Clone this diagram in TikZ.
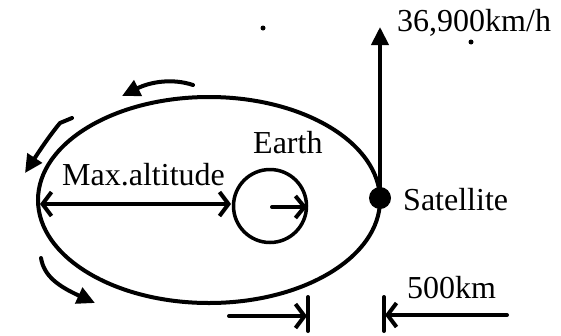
\documentclass[tikz,border=0pt]{standalone}
\usepackage{fontspec}
\setmainfont{Liberation Serif}
\usetikzlibrary{arrows.meta}
\begin{document}
\begin{tikzpicture}[x=1pt,y=-1pt,
  lbl/.style={inner sep=0pt,anchor=base west,font=\fontsize{32}{38}\selectfont},
  thick4/.style={line width=4pt},
  filledtip/.style={-{Triangle[length=18pt,width=17pt]}},
  opentip/.style={line width=4pt,line cap=round}]
\useasboundingbox (0,0) rectangle (561,335);
% orbit
\draw[thick4] (209,200) ellipse [x radius=171, y radius=103];
% earth
\node[draw,circle,line width=3.5pt,minimum size=73pt,inner sep=0pt] (earth) at (270,206) {};
\coordinate (ec) at (272,207);
\coordinate (er) at (307,207);
\draw[opentip,-{Straight Barb[length=9pt,width=22pt,line width=4pt]}] (ec) -- (er);
\node[lbl] (earthlbl) at (253,153) {Earth};
% max altitude
\coordinate (ml) at (40,204);
\coordinate (mr) at (231,204);
\draw[opentip,{Straight Barb[length=9pt,width=24pt,line width=4pt]}-{Straight Barb[length=9pt,width=24pt,line width=4pt]}] (ml) -- (mr);
\node[lbl] (maxlbl) at (62,185) {Max.altitude};
% satellite
\node[circle,fill,minimum size=22pt,inner sep=0pt] (sat) at (380,198) {};
\node[lbl] (satlbl) at (403,210) {Satellite};
\coordinate (vtop) at (380,27);
\draw[line width=4pt,filledtip] (sat.center) -- (vtop);
\node[lbl] (vlbl) at (397,31) {36,900km/h};
% stray dots
\fill (263,28) circle [radius=2.5];
\fill (471,42) circle [radius=2.5];
% curved arrows
\draw[thick4,line cap=round,filledtip] (193,85) .. controls (172,78) and (150,82) .. (122,96);
\draw[thick4,line cap=round,line join=round,filledtip] (72,118) -- (60,123) .. controls (50,135) and (40,150) .. (25,173);
\draw[thick4,line cap=round,filledtip] (41,258) .. controls (44,276) and (58,286) .. (95,303);
% 500 km
\coordinate (al) at (229,316);
\coordinate (ar) at (307,316);
\draw[opentip,-{Straight Barb[length=9pt,width=24pt,line width=4pt]}] (al) -- (ar);
\draw[opentip] (308,297) -- (308,331);
\coordinate (bl) at (507,315);
\coordinate (br) at (385,315);
\draw[opentip,-{Straight Barb[length=9pt,width=24pt,line width=4pt]}] (bl) -- (br);
\draw[opentip] (384,297) -- (384,331);
\node[lbl] (kmlbl) at (407,298) {500km};
\end{tikzpicture}
\end{document}
